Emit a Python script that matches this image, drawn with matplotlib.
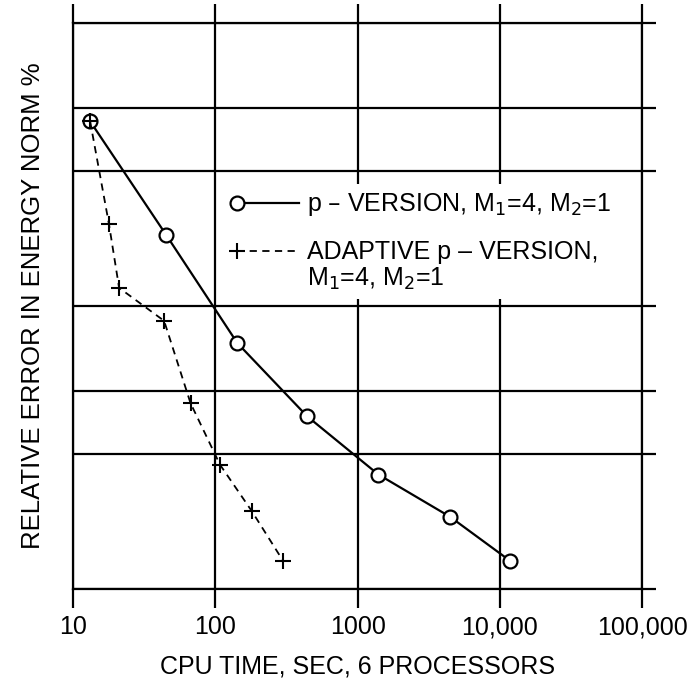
import matplotlib.pyplot as plt
from matplotlib.legend_handler import HandlerLine2DCompound

plt.rcParams['font.family'] = ['Liberation Sans', 'DejaVu Sans']

# CPU time (sec) and relative error (%)
p_time = [13.2, 45, 143, 442, 1400, 4470, 11750]
p_err = [45, 17.9, 7.4, 4.08, 2.54, 1.80, 1.26]

ad_time = [13.2, 17.9, 21.1, 43.7, 67, 108, 180, 299]
ad_err = [45, 19.5, 11.6, 8.87, 4.54, 2.75, 1.89, 1.26]

x_ticks = [10, 100, 1000, 10000, 100000]
x_labels = ["10", "100", "1000", "10,000", "100,000"]
y_grid = [1, 3, 5, 10, 30, 50, 100]


class LeftMarker(HandlerLine2DCompound):
    """legend handle with the marker at the left end of the line,
    optionally raised to sit on the first line of a two-line label"""
    def __init__(self, raise_by=0, **kw):
        super().__init__(**kw)
        self.raise_by = raise_by

    def get_xdata(self, legend, xdescent, ydescent, width, height, fontsize):
        xdata, _ = super().get_xdata(legend, xdescent, ydescent, width, height, fontsize)
        return xdata, [xdata[0]]

    def create_artists(self, legend, orig_handle, xdescent, ydescent,
                       width, height, fontsize, trans):
        arts = super().create_artists(legend, orig_handle, xdescent, ydescent,
                                      width, height, fontsize, trans)
        for a in arts:
            a.set_ydata([y + self.raise_by for y in a.get_ydata()])
        return arts


fig = plt.figure(figsize=(6.95, 6.81), dpi=100)
ax = fig.add_axes([0.105, 0.135, 0.819, 0.831])

l1, = ax.plot(p_time, p_err, color='black', lw=1.6, marker='o', markersize=10,
              markerfacecolor='white', markeredgewidth=1.6,
              label="p – VERSION, M$_1$=4, M$_2$=1")
l2, = ax.plot(ad_time, ad_err, color='black', lw=1.3, ls=(0, (4, 3)), marker='+',
              markersize=12, markeredgewidth=1.5,
              label="ADAPTIVE p – VERSION,\nM$_1$=4, M$_2$=1")

ax.set_xscale('log')
ax.set_yscale('log')
ax.set_xlim(10, 100000)
ax.set_ylim(1, 100)
ax.set_xticks(x_ticks)
ax.set_xticklabels(x_labels)
ax.set_yticks(y_grid)
ax.set_yticklabels([])
ax.minorticks_off()
ax.tick_params(axis='x', which='major', direction='out', length=14, width=1.6,
               top=True, labelsize=18, pad=5)
ax.tick_params(axis='y', which='major', direction='out', length=10, width=1.6,
               left=False, right=True, labelleft=False)
ax.grid(True, color='black', lw=1.6)
for s in ax.spines.values():
    s.set_linewidth(1.6)

ax.set_xlabel("CPU TIME, SEC, 6 PROCESSORS", fontsize=18, labelpad=11)
ax.set_ylabel("RELATIVE ERROR IN ENERGY NORM %", fontsize=18.5, labelpad=20)

leg = ax.legend(handles=[l1, l2], loc='upper left', bbox_to_anchor=(0.253, 0.738),
                fontsize=18, handlelength=2.5, handletextpad=0.3, labelspacing=0.85,
                borderpad=0.3, fancybox=False, framealpha=1,
                edgecolor='none', facecolor='white',
                handler_map={l1: LeftMarker(), l2: LeftMarker(raise_by=11.5)})
leg.get_texts()[1].set_linespacing(1.1)

fig.savefig("out.png", dpi=100)
